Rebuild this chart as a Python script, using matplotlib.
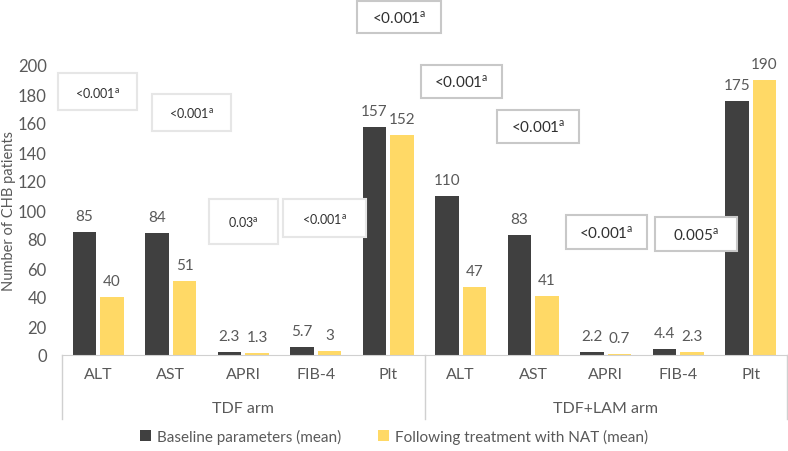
import numpy as np
import matplotlib.pyplot as plt
from matplotlib.patches import Rectangle
from matplotlib.transforms import blended_transform_factory

plt.rcParams['font.family'] = ['Lato', 'DejaVu Sans']

# data
cats = ['ALT', 'AST', 'APRI', 'FIB-4', 'Plt']
groups = ['TDF arm', 'TDF+LAM arm']
baseline_tdf = [85, 84, 2.3, 5.7, 157]
after_tdf = [40, 51, 1.3, 3, 152]
baseline_lam = [110, 83, 2.2, 4.4, 175]
after_lam = [47, 41, 0.7, 2.3, 190]
pvals = ['<0.001', '<0.001', '0.03', '<0.001', '<0.001',
         '<0.001', '<0.001', '<0.001', '0.005']
legend_labels = ['Baseline parameters (mean)', 'Following treatment with NAT (mean)']

W, H = 788, 452
fig = plt.figure(figsize=(W / 100, H / 100), dpi=100)
ax = fig.add_axes([62 / W, (H - 356) / H, (787 - 62) / W, 290 / H])

dark = '#404040'
gold = '#FFD966'
txt = '#595959'

base = baseline_tdf + baseline_lam
after = after_tdf + after_lam
x = np.arange(len(base))
bw = 0.32
off = 0.19
b1 = ax.bar(x - off, base, bw, color=dark, label=legend_labels[0])
b2 = ax.bar(x + off, after, bw, color=gold, label=legend_labels[1])

for bars, vals in ((b1, base), (b2, after)):
    for r, v in zip(bars, vals):
        ax.annotate(f'{v:g}', (r.get_x() + r.get_width() / 2, r.get_height()),
                    xytext=(0, 11.5), textcoords='offset points',
                    ha='center', va='center', fontsize=11, color=txt)

ax.set_xlim(-0.5, len(base) - 0.5)
ax.set_ylim(0, 200)
ax.set_yticks(np.arange(0, 201, 20))
ax.set_xticks(x, cats + cats)
ax.tick_params(axis='both', length=0, labelsize=11.5, labelcolor=txt)
ax.tick_params(axis='x', pad=9)
ax.tick_params(axis='y', pad=11, labelsize=12)
for s in ['top', 'right', 'left']:
    ax.spines[s].set_visible(False)
ax.spines['bottom'].set_color('#d0d0d0')
ax.set_ylabel('Number of CHB patients', fontsize=10.5, color=txt, labelpad=1)

# second level of category axis
tr = blended_transform_factory(ax.transData, ax.transAxes)
for xs in (-0.5, 4.5, 9.5):
    ax.plot([xs, xs], [0, -64 / 290], color='#d0d0d0', lw=1, transform=tr, clip_on=False)
for i, g in enumerate(groups):
    ax.text(2 + 5 * i, -53 / 290, g, transform=tr, ha='center', va='center',
            fontsize=11.5, color=txt)

# p-value boxes (figure pixel boxes: x0, y0, x1, y1 from top)
boxes = [(58, 74, 137, 111), (152, 95, 231, 132), (209, 200, 278, 245),
         (283, 200, 366, 238), (357, 2, 441, 34), (421, 66, 502, 99),
         (497, 111, 579, 144), (566, 216, 647, 250), (655, 218, 737, 252)]
for i, ((x0, y0, x1, y1), p) in enumerate(zip(boxes, pvals)):
    light = i < 4
    ec = '#e6e6e6' if light else '#c8c8c8'
    fig.patches.append(Rectangle((x0 / W, 1 - y1 / H), (x1 - x0) / W, (y1 - y0) / H,
                                 transform=fig.transFigure, facecolor='white',
                                 edgecolor=ec, lw=1.5, zorder=5))
    fig.text((x0 + x1) / 2 / W, 1 - (y0 + y1) / 2 / H, p + r'$^{\mathregular{a}}$',
             ha='center', va='center', fontsize=9 if light else 11,
             color='#303030', zorder=6)

fig.legend(loc='center', bbox_to_anchor=(0.5, 15 / H), ncol=2, frameon=False,
           fontsize=11, labelcolor=txt, handlelength=0.7, handleheight=0.7,
           handletextpad=0.4, columnspacing=2.4)

fig.savefig('out.png', dpi=100)
